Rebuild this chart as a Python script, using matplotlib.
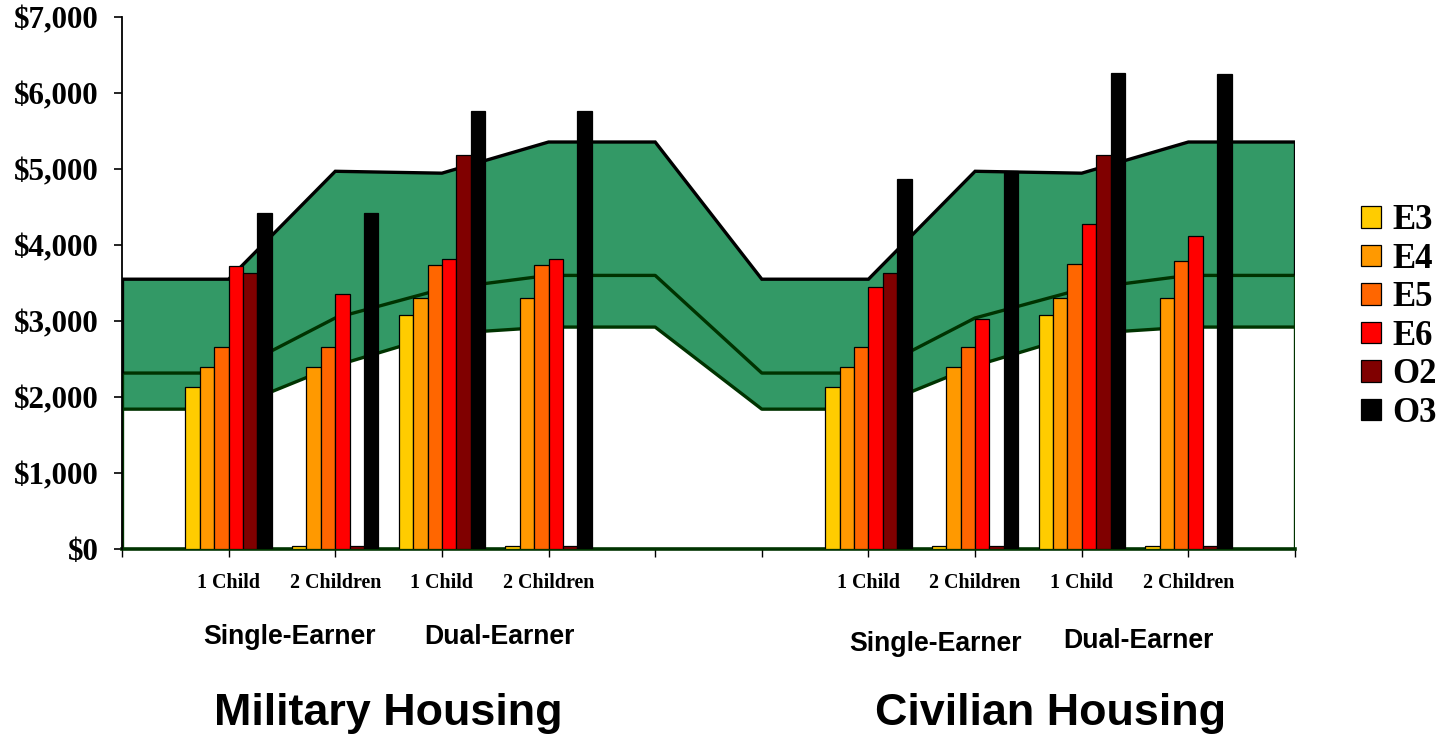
import matplotlib
matplotlib.use("Agg")
import matplotlib.pyplot as plt
from matplotlib.ticker import FuncFormatter
import numpy as np

# ---------------- data ----------------
slot_labels = ["", "1 Child", "2 Children", "1 Child", "2 Children", "", "",
               "1 Child", "2 Children", "1 Child", "2 Children", ""]
band_upper = [3550, 3550, 4970, 4945, 5355, 5355, 3550, 3550, 4970, 4945, 5355, 5355]
band_mid   = [2315, 2315, 3040, 3420, 3600, 3600, 2315, 2315, 3040, 3420, 3600, 3600]
band_low   = [1840, 1840, 2410, 2830, 2920, 2920, 1840, 1840, 2410, 2830, 2920, 2920]

group_pos = [1, 2, 3, 4, 7, 8, 9, 10]
grades = ["E3", "E4", "E5", "E6", "O2", "O3"]
E3 = [2135, 45, 3075, 45, 2135, 45, 3075, 45]
E4 = [2395, 2395, 3300, 3300, 2395, 2395, 3300, 3305]
E5 = [2660, 2660, 3740, 3740, 2660, 2660, 3750, 3790]
E6 = [3720, 3350, 3810, 3810, 3445, 3020, 4275, 4120]
O2 = [3630, 45, 5180, 45, 3630, 45, 5180, 45]
O3 = [4420, 4420, 5765, 5765, 4870, 4970, 6265, 6250]
bar_series = [E3, E4, E5, E6, O2, O3]
bar_colors = ["#FFCC00", "#FF9900", "#FF6600", "#FF0000", "#800000", "#000000"]

earner_labels = ["Single-Earner", "Dual-Earner", "Single-Earner", "Dual-Earner"]
housing_labels = ["Military Housing", "Civilian Housing"]

# ---------------- figure ----------------
W, H = 1445, 738
fig = plt.figure(figsize=(W / 100, H / 100), dpi=100)
ax = fig.add_axes([122 / W, 1 - 549 / H, (1295 - 122) / W, (549 - 17) / H])

x = np.arange(len(band_upper))
green = "#339966"
dkgreen = "#003300"

ax.fill_between(x, band_low, band_upper, facecolor=green, edgecolor="none", zorder=1)
ax.plot(x, band_upper, color="black", lw=2.4, zorder=2, solid_joinstyle="miter")
ax.plot(x, band_mid, color=dkgreen, lw=2.4, zorder=2)
ax.plot(x, band_low, color=dkgreen, lw=2.4, zorder=2)
ax.plot([x[0], x[-1]], [0, 0], color=dkgreen, lw=2.6, zorder=2, clip_on=False)
for xi in (x[0], x[-1]):
    ax.vlines(xi, 0, band_mid[xi], color=dkgreen, lw=2.4, zorder=2)
    ax.vlines(xi, band_mid[xi], band_upper[xi], color="black", lw=2.4, zorder=2)

bw = 0.135
for k, (vals, col, name) in enumerate(zip(bar_series, bar_colors, grades)):
    offs = (k - 2.5) * bw
    ax.bar(np.array(group_pos) + offs, vals, width=bw, color=col,
           edgecolor="black", linewidth=0.9, zorder=3, label=name)

ax.set_xlim(0, 11)
ax.set_ylim(0, 7000)
ax.set_yticks(np.arange(0, 7001, 1000))
ax.yaxis.set_major_formatter(FuncFormatter(lambda v, p: "${:,.0f}".format(v)))
ax.set_xticks(x)
ax.set_xticklabels(slot_labels)

for s in ("top", "right", "bottom"):
    ax.spines[s].set_visible(False)
ax.spines["left"].set_linewidth(1.3)
ax.spines["left"].set_color("black")

ax.tick_params(axis="y", direction="out", length=6, width=1.2, pad=11,
               labelsize=22.3)
ax.tick_params(axis="x", direction="out", length=6, width=1.0, pad=11,
               labelsize=14.4)
for lab in ax.get_yticklabels():
    lab.set_fontfamily("Liberation Serif")
    lab.set_fontweight("bold")
for lab in ax.get_xticklabels():
    lab.set_fontfamily("Liberation Serif")
    lab.set_fontweight("bold")

# legend
leg = fig.legend(loc="center left", bbox_to_anchor=(1330 / W, 1 - 317 / H),
                 frameon=False, handlelength=0.58, handleheight=0.58,
                 handletextpad=0.32, labelspacing=0.16,
                 prop={"family": "Liberation Serif", "weight": "bold", "size": 25})

# group labels
earner_xy = [(289, 637), (499, 637), (935, 644), (1138, 641)]
for lab, (px, py) in zip(earner_labels, earner_xy):
    fig.text(px / W, 1 - py / H, lab, ha="center", va="center",
             family="Liberation Sans", weight="bold", fontsize=19.2)

housing_xy = [(388, 714), (1051, 714)]
for lab, (px, py) in zip(housing_labels, housing_xy):
    fig.text(px / W, 1 - py / H, lab, ha="center", va="center",
             family="Liberation Sans", weight="bold", fontsize=32.3)

fig.savefig("out.png", dpi=100)
